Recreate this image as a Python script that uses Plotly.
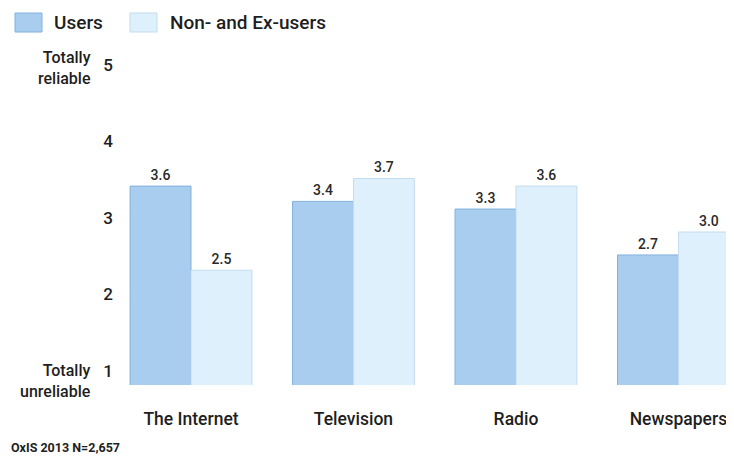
import plotly.graph_objects as go

categories = ["The Internet", "Television", "Radio", "Newspapers"]
users = [3.6, 3.4, 3.3, 2.7]
non_ex_users = [2.5, 3.7, 3.6, 3.0]
series_names = ["Users", "Non- and Ex-users"]
ytick_vals = [1, 2, 3, 4, 5]
ytick_text = ["1", "2", "3", "4", "5"]
scale_top = "Totally<br>reliable"
scale_bottom = "Totally<br>unreliable"
footnote = "OxIS 2013 N=2,657"

# the page body adds an 8px offset; the figure is sized to fill the window
OFF = 8
WIN_W, WIN_H = 734, 462
W, H = WIN_W - OFF, WIN_H - OFF
# plot area in window pixels: x 120..734, y 79..385
PL, PR, PT, PB = 120, 734, 79, 385
L, R, T, B = PL - OFF, WIN_W - PR, PT - OFF, WIN_H - PB
PW, PH = PR - PL, PB - PT

def xp(px):
    return (px - PL) / PW

def yp(py):
    return (PB - py) / PH

FONT = "Roboto, DejaVu Sans Condensed, sans-serif"
TXT = "#1e1e1e"
C_USERS = "#a8cdee"
C_USERS_LINE = "#82b2dd"
C_NON = "#def0fb"
C_NON_LINE = "#c3dcef"
W8 = 500

fig = go.Figure()
fig.add_trace(go.Bar(
    x=categories, y=users, name=series_names[0],
    marker=dict(color=C_USERS, line=dict(color=C_USERS_LINE, width=1)),
    text=[f"{v:.1f}" for v in users], textposition="outside",
    textfont=dict(size=14, color="#2a2a2a", family=FONT, weight=W8),
))
fig.add_trace(go.Bar(
    x=categories, y=non_ex_users, name=series_names[1],
    marker=dict(color=C_NON, line=dict(color=C_NON_LINE, width=1)),
    text=[f"{v:.1f}" for v in non_ex_users], textposition="outside",
    textfont=dict(size=14, color="#2a2a2a", family=FONT, weight=W8),
))

fig.update_layout(
    width=W, height=H,
    margin=dict(l=L, r=R, t=T, b=B, pad=0),
    paper_bgcolor="white", plot_bgcolor="white",
    barmode="group", bargap=0.25, bargroupgap=0,
    showlegend=False,
    font=dict(family=FONT, color=TXT),
    xaxis=dict(
        range=[-0.437, 3.342], showgrid=False, zeroline=False, showline=False,
        ticks="", tickfont=dict(size=17.5, color=TXT, family=FONT, weight=W8),
        ticklabelstandoff=21, automargin=False,
    ),
    yaxis=dict(
        range=[1, 5], tickvals=ytick_vals, ticktext=ytick_text,
        showgrid=False, zeroline=False, showline=False, ticks="",
        tickfont=dict(size=17, color=TXT, family=FONT, weight=W8),
        ticklabelshift=-14, ticklabelstandoff=6, automargin=False,
    ),
)

# scale end descriptions
for txt, py in [(scale_top, 68), (scale_bottom, 381)]:
    fig.add_annotation(xref="paper", yref="paper", x=xp(93), y=yp(py),
                       xanchor="right", yanchor="middle", align="right",
                       text=txt, showarrow=False,
                       font=dict(size=16, color=TXT, family=FONT, weight=W8))

# manual legend
swatches = [(15, 42, C_USERS, C_USERS_LINE), (130, 157, C_NON, C_NON_LINE)]
label_x = [52, 168]
for (x0, x1, fc, lc), lx, name in zip(swatches, label_x, series_names):
    fig.add_shape(type="rect", xref="paper", yref="paper",
                  x0=xp(x0), x1=xp(x1), y0=yp(32), y1=yp(13),
                  fillcolor=fc, line=dict(color=lc, width=1))
    fig.add_annotation(xref="paper", yref="paper", x=xp(lx), y=yp(23),
                       xanchor="left", yanchor="middle", text=name, showarrow=False,
                       font=dict(size=19, color=TXT, family=FONT, weight=W8))

fig.add_annotation(xref="paper", yref="paper", x=xp(OFF + 1), y=yp(447),
                   xanchor="left", yanchor="middle", text=footnote, showarrow=False,
                   font=dict(size=12.5, color=TXT, family=FONT, weight="bold"))

fig.write_html("out.html")
